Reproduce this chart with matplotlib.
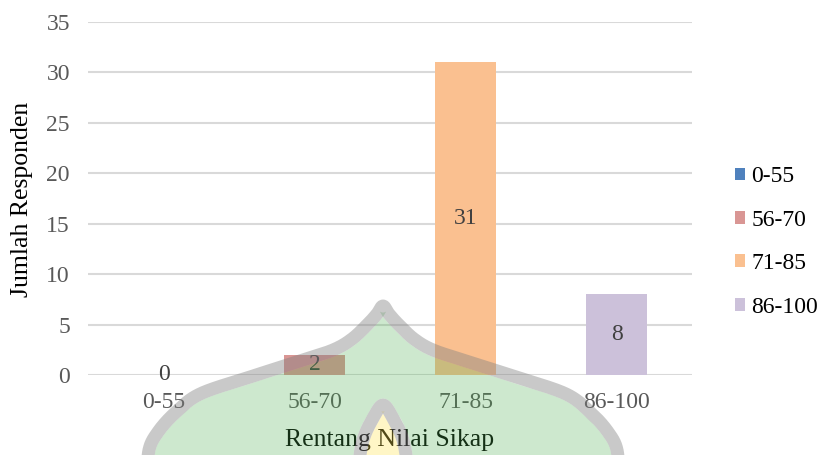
import numpy as np
import matplotlib
matplotlib.use("Agg")
import matplotlib.pyplot as plt
from matplotlib.path import Path
from matplotlib.patches import PathPatch
import matplotlib.transforms as mtransforms

plt.rcParams['font.family'] = ['Liberation Serif', 'DejaVu Serif']

categories = ["0-55", "56-70", "71-85", "86-100"]
counts = [0, 2, 31, 8]
colors = ["#4F81BD", "#D99694", "#FAC090", "#CCC1DA"]
yticks = [0, 5, 10, 15, 20, 25, 30, 35]

W, H = 822, 455
fig = plt.figure(figsize=(W / 100, H / 100), dpi=100)
ax = fig.add_axes([88 / W, 1 - 375 / H, (692 - 88) / W, (375 - 22) / H])

for i, (cat, val, col) in enumerate(zip(categories, counts, colors)):
    bars = ax.bar(i, val, width=0.41, color=col, label=cat, zorder=3)
    ax.bar_label(bars, labels=[str(val)], label_type='center',
                 fontsize=17, color='#404040', zorder=4)

ax.set_xlim(-0.5, len(categories) - 0.5)
ax.set_ylim(0, 35)
ax.set_yticks(yticks)
ax.set_xticks(range(len(categories)))
ax.set_xticklabels(categories)
ax.tick_params(axis='both', length=0, labelsize=17, colors='#595959')
ax.tick_params(axis='y', pad=13)
ax.tick_params(axis='x', pad=12)
ax.grid(axis='y', color='#d9d9d9', linewidth=1.5, zorder=0)
for s in ax.spines.values():
    s.set_visible(False)

fig.text(390 / W, 1 - 440 / H, "Rentang Nilai Sikap", fontsize=18.5,
         color='black', ha='center', va='center')
fig.text(22 / W, 1 - 199 / H, "Jumlah Responden", fontsize=18.5,
         color='black', ha='center', va='center', rotation=90)

fig.legend(loc='center left', bbox_to_anchor=(723 / W, 1 - 242 / H),
           frameon=False, fontsize=17, handlelength=0.45, handleheight=0.45,
           handletextpad=0.25, labelspacing=0.95, borderpad=0)

# faint emblem overlay, defined in pixel coordinates (y pointing down)
px = mtransforms.Affine2D().scale(1 / W, -1 / H).translate(0, 1) + fig.transFigure


def catmull_rom(pts, n=30):
    pts = np.asarray(pts, float)
    p = np.vstack([pts[0], pts, pts[-1]])
    out = []
    for k in range(1, len(p) - 2):
        p0, p1, p2, p3 = p[k - 1], p[k], p[k + 1], p[k + 2]
        t = np.linspace(0, 1, n, endpoint=False)[:, None]
        out.append(0.5 * ((2 * p1) + (-p0 + p2) * t
                          + (2 * p0 - 5 * p1 + 4 * p2 - p3) * t ** 2
                          + (-p0 + 3 * p1 - 3 * p2 + p3) * t ** 3))
    out.append(pts[-1][None, :])
    return np.vstack(out)


def symmetric(left, cx):
    right = [(2 * cx - x, y) for (x, y) in reversed(left[:-1])]
    return list(left) + right


def offset(curve, d):
    t = np.gradient(curve, axis=0)
    t /= np.linalg.norm(t, axis=1)[:, None]
    nrm = np.column_stack([-t[:, 1], t[:, 0]])
    return curve + d * nrm


def closed_below(curve, y=490):
    pts = np.vstack([curve, [curve[-1][0], y], [curve[0][0], y], curve[0]])
    codes = [Path.MOVETO] + [Path.LINETO] * (len(pts) - 2) + [Path.CLOSEPOLY]
    return pts, codes


dome_left = [(147, 480), (149, 450), (158, 432), (175, 413), (200, 394),
             (250, 377), (300, 361), (333, 350), (352, 339), (368, 324),
             (377, 314), (383, 306)]
dome = catmull_rom(symmetric(dome_left, 383))

peak_left = [(358, 480), (360, 455), (364, 437), (372, 420), (383, 405)]
peak = catmull_rom(symmetric(peak_left, 383))

stroke_half = 6.5

# green body with the inner peak cut out
body_pts, body_codes = closed_below(offset(dome, stroke_half))
hole_pts, hole_codes = closed_below(offset(peak, -stroke_half)[::-1])
green = Path(np.vstack([body_pts, hole_pts]), body_codes + hole_codes)
fig.add_artist(PathPatch(green, transform=px, facecolor='#4CAF50', alpha=0.28,
                         edgecolor='none', zorder=10))

# yellow core of the inner peak
core_pts, core_codes = closed_below(offset(peak, stroke_half))
fig.add_artist(PathPatch(Path(core_pts, core_codes), transform=px,
                         facecolor='#FFE650', alpha=0.32, edgecolor='none',
                         zorder=10))

# gray outlines
for curve in (dome, peak):
    fig.add_artist(PathPatch(Path(curve), transform=px, facecolor='none',
                             edgecolor='#808080', alpha=0.42,
                             linewidth=stroke_half * 2 * 0.72,
                             capstyle='butt', joinstyle='round', zorder=11))

fig.savefig("out.png", dpi=100)
